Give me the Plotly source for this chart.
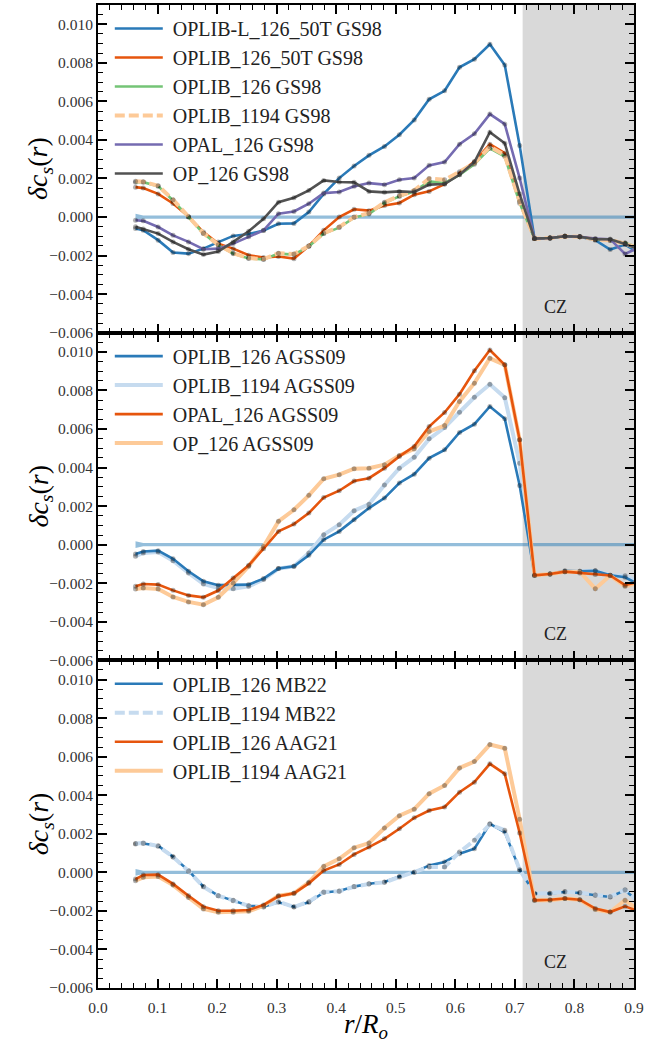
import plotly.graph_objects as go
from plotly.subplots import make_subplots

# ---------------- data (delta c_s, in units of 1e-3) ----------------
r = [0.063, 0.076, 0.101, 0.126, 0.152, 0.177, 0.202, 0.227, 0.253, 0.278,
     0.303, 0.329, 0.354, 0.379, 0.405, 0.430, 0.455, 0.481, 0.506, 0.531,
     0.556, 0.582, 0.607, 0.632, 0.658, 0.683, 0.708, 0.733, 0.759, 0.784,
     0.809, 0.835, 0.860, 0.885, 0.910]

# panel 1 : GS98
oplibL_126_50T_gs98 = [-0.60, -0.68, -1.20, -1.84, -1.90, -1.64, -1.30, -0.98, -0.88, -0.70,
                       -0.35, -0.33, 0.26, 1.20, 2.02, 2.65, 3.20, 3.66, 4.27, 5.04,
                       6.11, 6.55, 7.77, 8.19, 8.96, 7.89, 3.71, -1.12, -1.09, -1.00,
                       -1.02, -1.20, -1.69, -1.43, -1.90]
oplib_126_50T_gs98 = [1.55, 1.50, 1.20, 0.70, 0.02, -0.78, -1.38, -1.64, -1.98, -2.10,
                      -2.05, -2.16, -1.50, -0.69, 0.00, 0.40, 0.33, 0.60, 0.73, 1.16,
                      1.33, 1.71, 2.28, 2.88, 3.78, 3.31, 0.90, -1.12, -1.09, -1.00,
                      -1.02, -1.17, -1.20, -1.35, -1.70]
oplib_126_gs98 = [1.81, 1.81, 1.60, 0.86, 0.00, -0.86, -1.46, -1.90, -2.15, -2.20,
                  -1.90, -1.95, -1.52, -0.86, -0.55, -0.03, 0.16, 0.73, 1.07, 1.33,
                  1.85, 1.76, 2.19, 2.74, 3.56, 3.14, 0.72, -1.12, -1.09, -1.00,
                  -1.02, -1.17, -1.20, -1.35, -1.60]
oplib_1194_gs98 = [1.85, 1.83, 1.62, 0.90, 0.02, -0.84, -1.44, -1.88, -2.13, -2.18,
                   -1.88, -1.92, -1.50, -0.84, -0.52, 0.00, 0.20, 0.76, 1.10, 1.38,
                   2.00, 1.93, 2.35, 2.80, 3.65, 3.20, 0.80, -1.12, -1.09, -1.00,
                   -1.02, -1.17, -1.20, -1.38, -1.65]
opal_126_gs98 = [-0.17, -0.20, -0.52, -0.95, -1.29, -1.67, -1.64, -1.38, -1.03, -0.69,
                 0.17, 0.29, 0.69, 1.24, 1.30, 1.59, 1.76, 1.68, 1.93, 2.02,
                 2.68, 2.85, 3.78, 4.32, 5.34, 4.82, 2.02, -1.12, -1.09, -1.00,
                 -1.02, -1.12, -1.15, -1.92, -1.55]
op_126_gs98 = [-0.50, -0.62, -0.86, -1.29, -1.67, -1.95, -1.79, -1.29, -0.74, -0.09,
               0.77, 1.00, 1.38, 1.90, 1.82, 1.80, 1.33, 1.28, 1.33, 1.30,
               1.68, 1.71, 2.19, 2.85, 4.40, 3.83, 1.19, -1.12, -1.09, -1.00,
               -1.02, -1.15, -1.15, -1.40, -1.70]

# panel 2 : AGSS09
oplib_126_agss09 = [-0.48, -0.35, -0.31, -0.73, -1.38, -1.90, -2.10, -2.07, -2.07, -1.76,
                    -1.24, -1.12, -0.55, 0.26, 0.69, 1.30, 1.90, 2.42, 3.20, 3.66,
                    4.49, 4.92, 5.82, 6.25, 7.17, 6.53, 3.07, -1.59, -1.52, -1.35,
                    -1.38, -1.35, -1.59, -1.69, -2.10]
oplib_1194_agss09 = [-0.60, -0.43, -0.38, -0.83, -1.47, -2.04, -2.25, -2.28, -2.16, -1.81,
                     -1.24, -1.12, -0.43, 0.52, 1.04, 1.76, 2.10, 3.10, 3.97, 4.54,
                     5.49, 6.08, 6.87, 7.65, 8.32, 7.63, 4.23, -1.59, -1.52, -1.38,
                     -1.38, -1.35, -1.59, -1.61, -1.95]
opal_126_agss09 = [-2.16, -2.04, -2.07, -2.37, -2.63, -2.73, -2.38, -1.73, -1.07, -0.21,
                   0.69, 1.07, 1.64, 2.45, 2.80, 3.30, 3.45, 3.97, 4.58, 5.10,
                   6.13, 6.86, 7.81, 9.02, 10.10, 9.33, 5.44, -1.59, -1.52, -1.40,
                   -1.47, -1.55, -1.60, -2.10, -1.90]
op_126_agss09 = [-2.30, -2.25, -2.30, -2.71, -2.97, -3.11, -2.73, -1.99, -1.12, -0.09,
                 1.21, 1.81, 2.56, 3.42, 3.63, 3.94, 3.97, 4.15, 4.63, 4.97,
                 5.87, 6.18, 7.43, 8.38, 9.67, 9.33, 5.44, -1.59, -1.52, -1.40,
                 -1.40, -2.28, -1.60, -2.16, -1.95]

# panel 3 : MB22 / AAG21
oplib_126_mb22 = [1.47, 1.50, 1.38, 0.81, 0.09, -0.74, -1.21, -1.47, -1.73, -1.78,
                  -1.55, -1.78, -1.55, -1.04, -0.97, -0.74, -0.59, -0.50, -0.21, 0.00,
                  0.36, 0.54, 0.97, 1.23, 2.52, 2.09, 0.14, -1.10, -1.10, -1.02,
                  -1.07, -1.19, -1.28, -0.93, -1.60]
oplib_1194_mb22 = [1.50, 1.52, 1.36, 0.80, 0.06, -0.75, -1.22, -1.45, -1.75, -1.80,
                   -1.52, -1.80, -1.52, -1.02, -0.98, -0.75, -0.60, -0.52, -0.24, 0.00,
                   0.28, 0.28, 1.05, 1.66, 2.49, 2.18, 0.14, -1.10, -1.08, -1.00,
                   -1.05, -1.17, -1.26, -0.90, -1.60]
oplib_126_aag21 = [-0.35, -0.14, -0.12, -0.60, -1.21, -1.78, -1.99, -1.99, -1.95, -1.69,
                   -1.24, -1.09, -0.57, 0.09, 0.41, 0.93, 1.31, 1.74, 2.26, 2.83,
                   3.21, 3.39, 4.16, 4.68, 5.63, 5.11, 2.04, -1.45, -1.42, -1.36,
                   -1.42, -1.88, -2.06, -1.76, -2.05]
oplib_1194_aag21 = [-0.43, -0.26, -0.22, -0.66, -1.30, -1.90, -2.07, -2.07, -2.02, -1.73,
                    -1.21, -1.09, -0.52, 0.31, 0.70, 1.28, 1.52, 2.30, 2.94, 3.28,
                    4.08, 4.51, 5.42, 5.75, 6.63, 6.44, 2.75, -1.45, -1.45, -1.36,
                    -1.42, -1.93, -2.06, -1.45, -2.00]

# observational band around zero (half-width, 1e-3)
zero_band_r = [0.063, 0.076, 0.910]
zero_band_halfwidth = [0.175, 0.085, 0.085]

cz_base = 0.713
x_ticks = [0.0, 0.1, 0.2, 0.3, 0.4, 0.5, 0.6, 0.7, 0.8, 0.9]
y_ticks = [-0.006, -0.004, -0.002, 0.000, 0.002, 0.004, 0.006, 0.008, 0.010]

SCALE = 1e-3
FONT = "Liberation Serif"

BLUE = "#2a7ab8"
ORANGE = "#e6550d"
GREEN = "#74c476"
PEACH = "#fdca98"
PURPLE = "#756bb1"
DGRAY = "#525252"
LBLUE = "#c6dbef"

fig = make_subplots(rows=3, cols=1, shared_xaxes=True, vertical_spacing=0)


def add_band(row):
    up = [v * SCALE for v in zero_band_halfwidth]
    lo = [-v * SCALE for v in zero_band_halfwidth]
    fig.add_trace(go.Scatter(x=zero_band_r + zero_band_r[::-1], y=up + lo[::-1],
                             fill="toself", fillcolor="rgba(31,119,180,0.48)",
                             line=dict(width=0), mode="lines", showlegend=False,
                             hoverinfo="skip"), row=row, col=1)


def add_series(row, name, vals, color, width, legend, rank, dash="solid"):
    y = [v * SCALE for v in vals]
    fig.add_trace(go.Scatter(x=r, y=y, mode="lines", name="\u00a0" + name,
                             line=dict(color=color, width=width, dash=dash),
                             legend=legend, legendrank=rank), row=row, col=1)
    fig.add_trace(go.Scatter(x=r, y=y, mode="markers", showlegend=False,
                             marker=dict(size=5, color="rgba(0,0,0,0.3)"),
                             hoverinfo="skip"), row=row, col=1)


for row in (1, 2, 3):
    add_band(row)

add_series(1, "OPLIB-L_126_50T GS98", oplibL_126_50T_gs98, BLUE, 2.6, "legend", 1)
add_series(1, "OPLIB_126_50T GS98", oplib_126_50T_gs98, ORANGE, 2.6, "legend", 2)
add_series(1, "OPLIB_126 GS98", oplib_126_gs98, GREEN, 2.6, "legend", 3)
add_series(1, "OPLIB_1194 GS98", oplib_1194_gs98, PEACH, 4, "legend", 4, dash="10px,4px")
add_series(1, "OPAL_126 GS98", opal_126_gs98, PURPLE, 2.6, "legend", 5)
add_series(1, "OP_126 GS98", op_126_gs98, DGRAY, 2.6, "legend", 6)

add_series(2, "OPLIB_1194 AGSS09", oplib_1194_agss09, LBLUE, 4, "legend2", 2)
add_series(2, "OPLIB_126 AGSS09", oplib_126_agss09, BLUE, 2.6, "legend2", 1)
add_series(2, "OP_126 AGSS09", op_126_agss09, PEACH, 4, "legend2", 4)
add_series(2, "OPAL_126 AGSS09", opal_126_agss09, ORANGE, 2.6, "legend2", 3)

add_series(3, "OPLIB_126 MB22", oplib_126_mb22, BLUE, 2.6, "legend3", 1)
add_series(3, "OPLIB_1194 MB22", oplib_1194_mb22, LBLUE, 4, "legend3", 2, dash="10px,4px")
add_series(3, "OPLIB_1194 AAG21", oplib_1194_aag21, PEACH, 4, "legend3", 4)
add_series(3, "OPLIB_126 AAG21", oplib_126_aag21, ORANGE, 2.6, "legend3", 3)

axis_common = dict(showline=True, linewidth=2, linecolor="black", mirror="allticks",
                   ticks="inside", ticklen=9, tickwidth=1.5, tickcolor="black",
                   showgrid=False, zeroline=False,
                   tickfont=dict(family=FONT, size=15.5, color="#333"))

for row in (1, 2, 3):
    fig.update_xaxes(range=[0, 0.9], tickvals=x_ticks, tickformat=".1f",
                     minor=dict(ticks="inside", ticklen=5, tickwidth=1.2,
                                tickcolor="black", dtick=0.02, tick0=0, showgrid=False),
                     ticklabelstandoff=4,
                     row=row, col=1, **axis_common)
    fig.update_yaxes(range=[-0.006, 0.011], tickvals=y_ticks, tickformat=".3f",
                     minor=dict(ticks="inside", ticklen=5, tickwidth=1.2,
                                tickcolor="black", dtick=0.0005, tick0=0, showgrid=False),
                     row=row, col=1, **axis_common)
    xref = "x" if row == 1 else f"x{row}"
    yref = "y" if row == 1 else f"y{row}"
    fig.add_shape(type="rect", xref=xref, yref=f"{yref} domain", x0=cz_base, x1=0.95,
                  y0=0, y1=1, fillcolor="#d9d9d9", line=dict(width=0), layer="below")
    fig.add_annotation(x=0.768, y=-0.00465, xref=xref, yref=yref, text="CZ",
                       showarrow=False, font=dict(family=FONT, size=18, color="#222"))
    fig.add_annotation(x=-0.108, y=1 - (row - 0.5) / 3, xref="paper", yref="paper",
                       text="<i>δc</i><sub><i>s</i></sub>(<i>r</i>)", textangle=-90,
                       showarrow=False, xanchor="center", yanchor="middle",
                       font=dict(family=FONT, size=28, color="black"))

fig.add_annotation(x=0.5, y=-0.039, xref="paper", yref="paper",
                   text="<i>r</i>/<i>R</i><sub><i>o</i></sub>", showarrow=False,
                   xanchor="center", yanchor="middle",
                   font=dict(family=FONT, size=27, color="black"))

leg = dict(x=0.022, xanchor="left", yanchor="top", bgcolor="rgba(0,0,0,0)",
           font=dict(family=FONT, size=20, color="#222"), itemwidth=48,
           tracegroupgap=0)
fig.update_layout(
    width=671, height=1044,
    margin=dict(l=98, r=37, t=3, b=56),
    paper_bgcolor="white", plot_bgcolor="white",
    legend=dict(y=1 - 0.004, **leg),
    legend2=dict(y=2 / 3 - 0.004, **leg),
    legend3=dict(y=1 / 3 - 0.004, **leg),
    hovermode=False,
)

fig.write_html("out.html", config={"displayModeBar": False, "staticPlot": False},
               post_script="document.body.style.margin='0';document.body.style.overflow='hidden';")
